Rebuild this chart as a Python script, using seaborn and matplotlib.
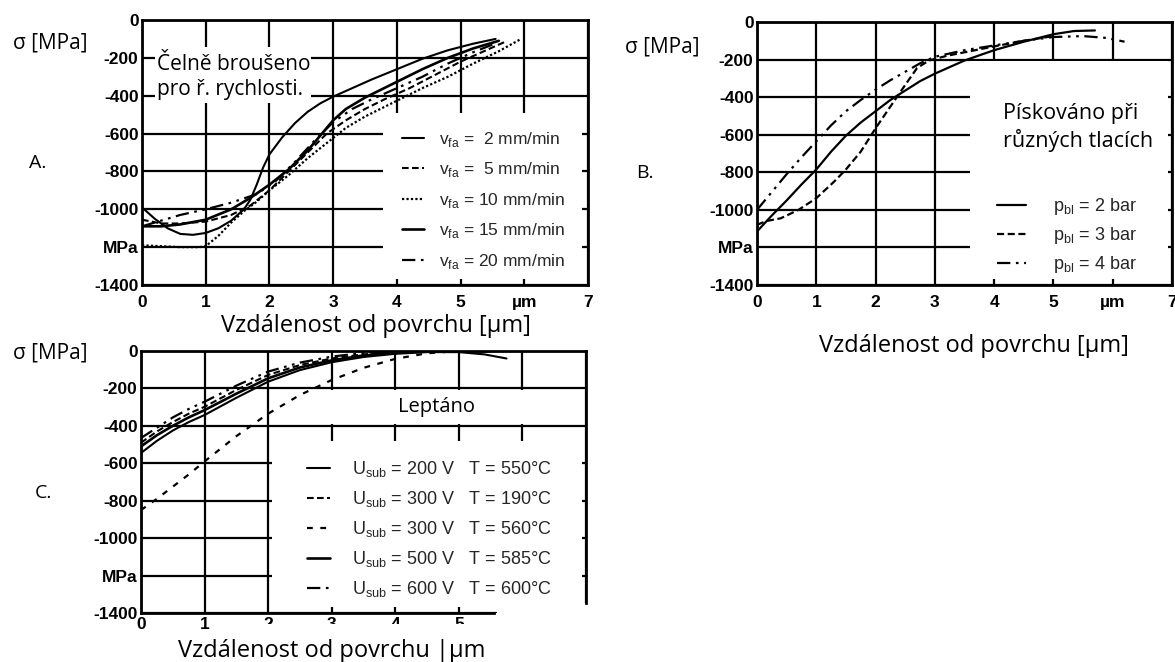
import matplotlib
matplotlib.use("Agg")
import matplotlib.pyplot as plt
from matplotlib.patches import Rectangle
import seaborn as sns

# ---------------------------------------------------------------- data
# A: face grinding at several feed rates
a_v2_x = [0, 0.2, 0.4, 0.6, 0.8, 1.0, 1.2, 1.4, 1.6, 1.7, 1.8, 1.9, 2.0, 2.2, 2.4, 2.6, 2.8, 3.0, 3.3, 3.6, 4.0, 4.4, 4.8, 5.2, 5.55]
a_v2_y = [-990, -1050, -1100, -1130, -1135, -1125, -1100, -1060, -1000, -950, -870, -780, -710, -620, -545, -485, -440, -405, -360, -315, -260, -205, -160, -125, -100]
a_v5_x = [0, 0.3, 0.6, 1.0, 1.4, 1.7, 2.0, 2.3, 2.6, 2.9, 3.2, 3.5, 3.8, 4.2, 4.6, 5.0, 5.4, 5.7]
a_v5_y = [-1055, -1075, -1075, -1065, -1030, -980, -900, -800, -700, -600, -530, -470, -420, -360, -290, -220, -160, -115]
a_v10_x = [0, 0.3, 0.6, 0.9, 1.0, 1.2, 1.4, 1.6, 1.8, 2.0, 2.3, 2.6, 2.9, 3.2, 3.5, 3.8, 4.1, 4.4, 4.8, 5.2, 5.6, 5.95]
a_v10_y = [-1190, -1195, -1200, -1200, -1195, -1140, -1070, -1010, -960, -900, -820, -730, -650, -570, -510, -460, -410, -360, -300, -230, -165, -100]
a_v15_x = [0, 0.3, 0.6, 1.0, 1.4, 1.7, 2.0, 2.3, 2.6, 2.8, 3.0, 3.2, 3.5, 3.8, 4.1, 4.4, 4.8, 5.2, 5.6]
a_v15_y = [-1090, -1090, -1080, -1055, -1000, -940, -870, -790, -690, -610, -530, -470, -410, -360, -310, -260, -200, -150, -110]
a_v20_x = [0, 0.3, 0.6, 1.0, 1.4, 1.8, 2.1, 2.4, 2.7, 3.0, 3.3, 3.6, 4.0, 4.4, 4.8, 5.2, 5.5]
a_v20_y = [-1090, -1060, -1030, -1000, -965, -920, -850, -750, -640, -540, -470, -420, -360, -300, -230, -170, -130]

# B: shot blasting at several pressures
b_p2_x = [0, 0.25, 0.5, 0.75, 1.0, 1.25, 1.5, 1.75, 2.0, 2.25, 2.5, 2.75, 3.0, 3.5, 4.0, 4.5, 5.0, 5.35, 5.7]
b_p2_y = [-1115, -1030, -950, -865, -785, -690, -605, -535, -475, -415, -365, -315, -275, -205, -150, -105, -65, -48, -45]
b_p3_x = [0, 0.15, 0.4, 0.7, 1.0, 1.3, 1.5, 1.75, 2.0, 2.25, 2.5, 2.7, 2.9, 3.2, 3.6, 4.0, 4.5, 5.0]
b_p3_y = [-1080, -1060, -1045, -1000, -938, -850, -785, -690, -566, -450, -335, -245, -205, -180, -155, -130, -100, -75]
b_p4_x = [0, 0.25, 0.5, 0.75, 1.0, 1.25, 1.5, 1.75, 2.0, 2.25, 2.5, 2.75, 3.0, 3.5, 4.0, 4.5, 5.0, 5.5, 5.9, 6.2]
b_p4_y = [-1000, -905, -810, -720, -635, -550, -475, -415, -360, -310, -265, -220, -185, -150, -125, -100, -80, -75, -85, -105]

# C: etched at several substrate voltages / temperatures
c_x = [0, 0.25, 0.5, 0.75, 1.0, 1.5, 2.0, 2.5, 3.0, 3.5, 4.0, 4.5, 5.0, 5.5]
c_200_x = [0, 0.25, 0.5, 0.75, 1.0, 1.5, 2.0, 2.5, 3.0, 3.5, 4.0, 4.5, 5.0, 5.4, 5.75]
c_200_y = [-545, -480, -425, -380, -342, -250, -164, -102, -60, -32, -15, -6, -6, -18, -40]
c_300a_y = [-490, -430, -380, -335, -298, -208, -128, -75, -40, -18, -6, -1, 0, -2]
c_300b_y = [-850, -790, -725, -660, -590, -455, -335, -235, -155, -90, -42, -12, 0, 0]
c_500_y = [-510, -450, -400, -355, -316, -228, -146, -88, -50, -24, -10, -2, 0, 0]
c_600_y = [-465, -410, -355, -310, -271, -185, -110, -62, -30, -10, -2, 0, 0, 0]

y_ticks = [0, -200, -400, -600, -800, -1000, -1200, -1400]
y_tick_labels = ["0", "-200", "-400", "-600", "-800", "-1000", "MPa", "-1400"]
x_ticks = [0, 1, 2, 3, 4, 5, 6, 7]
x_tick_labels_ab = ["0", "1", "2", "3", "4", "5", "µm", "7"]
x_tick_labels_c = ["0", "1", "2", "3", "4", "5", "", ""]

legend_a = [r"v$_\mathregular{fa}$ =  2 mm/min", r"v$_\mathregular{fa}$ =  5 mm/min",
            r"v$_\mathregular{fa}$ = 10 mm/min", r"v$_\mathregular{fa}$ = 15 mm/min",
            r"v$_\mathregular{fa}$ = 20 mm/min"]
legend_b = [r"p$_\mathregular{bl}$ = 2 bar", r"p$_\mathregular{bl}$ = 3 bar", r"p$_\mathregular{bl}$ = 4 bar"]
legend_c = [r"U$_\mathregular{sub}$ = 200 V   T = 550°C", r"U$_\mathregular{sub}$ = 300 V   T = 190°C",
            r"U$_\mathregular{sub}$ = 300 V   T = 560°C", r"U$_\mathregular{sub}$ = 500 V   T = 585°C",
            r"U$_\mathregular{sub}$ = 600 V   T = 600°C"]

# ---------------------------------------------------------------- style
sns.set_style("white")
plt.rcParams["font.family"] = ["Liberation Sans", "DejaVu Sans"]
plt.rcParams["axes.unicode_minus"] = False

LABEL_FONT = ["Open Sans", "DejaVu Sans"]
W, H = 1175, 662
fig = plt.figure(figsize=(W / 100, H / 100), dpi=100)


def frac(left, top, right, bottom):
    return [left / W, 1 - bottom / H, (right - left) / W, (bottom - top) / H]


def fx(px):
    return px / W


def fy(py):
    return 1 - py / H


SOLID = "-"
DASHED = (0, (3.2, 1.6))
DOTTED = (0, (1.0, 1.0))
DASH_DOT_DOT = (0, (6, 2.5, 1.2, 2.5, 1.2, 2.5))
SPARSE = (0, (2.6, 3.4))


def style_axes(ax, xlabels, xpad):
    ax.set_xlim(0, 7)
    ax.set_ylim(-1400, 0)
    ax.set_xticks(x_ticks)
    ax.set_xticklabels(xlabels)
    ax.set_yticks(y_ticks)
    ax.set_yticklabels(y_tick_labels)
    ax.tick_params(axis="both", length=0, labelsize=12.5, colors="black")
    ax.tick_params(axis="x", pad=xpad)
    ax.tick_params(axis="y", pad=2.5)
    for t in ax.get_xticklabels() + ax.get_yticklabels():
        t.set_fontweight("bold")
    ax.grid(True, color="black", lw=1.6)
    ax.set_axisbelow(True)
    for s in ax.spines.values():
        s.set_linewidth(2.0)
        s.set_color("black")
        s.set_visible(True)
    ax.set_xlabel("")
    ax.set_ylabel("")


def blank(ax, x0, x1, y0, y1):
    ax.add_patch(Rectangle((x0, y0), x1 - x0, y1 - y0, facecolor="white",
                           edgecolor="none", zorder=1.5))


def curve(ax, x, y, ls, lw):
    sns.lineplot(x=x, y=y, ax=ax, color="black", linestyle=ls, lw=lw,
                 sort=False, estimator=None, zorder=3)
    return ax.lines[-1]


# ---------------------------------------------------------------- panel A
axA = fig.add_axes(frac(142, 20, 588, 285))
style_axes(axA, x_tick_labels_ab, 7)
blank(axA, 0.2, 2.65, -440, -143)
blank(axA, 3.78, 6.9, -1370, -490)
hA = [curve(axA, a_v2_x, a_v2_y, SOLID, 1.5),
      curve(axA, a_v5_x, a_v5_y, DASHED, 1.5),
      curve(axA, a_v10_x, a_v10_y, DOTTED, 1.6),
      curve(axA, a_v15_x, a_v15_y, SOLID, 1.9),
      curve(axA, a_v20_x, a_v20_y, DASH_DOT_DOT, 1.6)]
lgA = axA.legend(hA, legend_a, loc="upper left", bbox_to_anchor=(fx(402), fy(130)),
                 bbox_transform=fig.transFigure, frameon=False, fontsize=12.5,
                 borderpad=0, borderaxespad=0, handlelength=1.25, handletextpad=0.9,
                 labelspacing=0.66)
lgA.set_zorder(5)

# ---------------------------------------------------------------- panel B
axB = fig.add_axes(frac(757, 22, 1172, 285))
style_axes(axB, x_tick_labels_ab, 7)
blank(axB, 3.6, 6.93, -1370, -207)
hB = [curve(axB, b_p2_x, b_p2_y, SOLID, 1.6),
      curve(axB, b_p3_x, b_p3_y, DASHED, 1.6),
      curve(axB, b_p4_x, b_p4_y, DASH_DOT_DOT, 1.6)]
lgB = axB.legend(hB, legend_b, loc="upper left", bbox_to_anchor=(fx(997), fy(196)),
                 bbox_transform=fig.transFigure, frameon=False, fontsize=13,
                 borderpad=0, borderaxespad=0, handlelength=1.6, handletextpad=1.5,
                 labelspacing=0.45)
lgB.set_zorder(5)

# ---------------------------------------------------------------- panel C
axC = fig.add_axes(frac(141, 351, 586, 613))
style_axes(axC, x_tick_labels_c, 3)
axC.spines["bottom"].set_bounds(0, 5.55)
axC.spines["right"].set_bounds(-1345, 0)
blank(axC, 2.06, 6.93, -390, -210)
blank(axC, 2.06, 6.93, -1370, -480)
blank(axC, 5.6, 7.0, -1400, -1345)
hC = [curve(axC, c_200_x, c_200_y, SOLID, 1.5),
      curve(axC, c_x, c_300a_y, DASHED, 1.5),
      curve(axC, c_x, c_300b_y, SPARSE, 1.6),
      curve(axC, c_x, c_500_y, SOLID, 1.9),
      curve(axC, c_x, c_600_y, DASH_DOT_DOT, 1.6)]
lgC = axC.legend(hC, legend_c, loc="upper left", bbox_to_anchor=(fx(307), fy(459)),
                 bbox_transform=fig.transFigure, frameon=False, fontsize=13,
                 borderpad=0, borderaxespad=0, handlelength=1.3, handletextpad=1.2,
                 labelspacing=0.56)
lgC.set_zorder(5)

# ---------------------------------------------------------------- labels
def label(x, y, s, size, ha="left", va="center"):
    fig.text(fx(x), fy(y), s, fontsize=size, family=LABEL_FONT, ha=ha, va=va,
             color="black", zorder=6)


label(13, 43, "σ [MPa]", 15)
label(625, 47, "σ [MPa]", 15)
label(13, 353, "σ [MPa]", 15)
label(29, 163, "A.", 14)
label(636, 173, "B.", 14)
label(35, 493, "C.", 14)

label(157, 65, "Čelně broušeno", 15)
label(157, 90, "pro ř. rychlosti.", 15)
label(1003, 113, "Pískováno při", 15.5)
label(1003, 140, "různých tlacích", 15.5)
label(398, 407, "Leptáno", 14.5)

label(376, 332, "Vzdálenost od povrchu [µm]", 17, ha="center", va="baseline")
label(974, 352, "Vzdálenost od povrchu [µm]", 17, ha="center", va="baseline")
label(332, 657, "Vzdálenost od povrchu |µm", 17, ha="center", va="baseline")

# paper strip over the lower half of the C distance labels
fig.add_artist(Rectangle((fx(250), fy(636)), 230 / W, 12 / H, transform=fig.transFigure,
                         facecolor="white", edgecolor="none", zorder=5))

fig.savefig("out.png", dpi=100, facecolor="white")
